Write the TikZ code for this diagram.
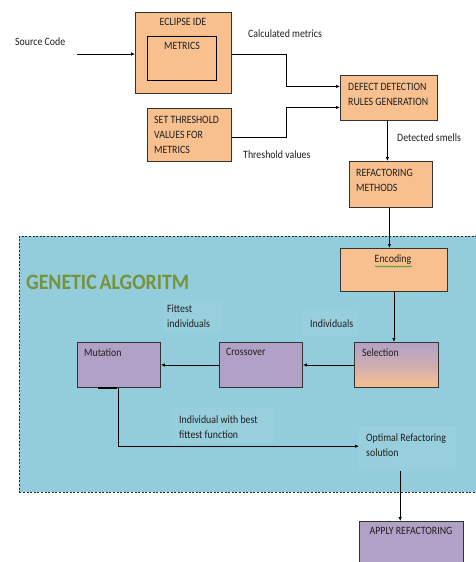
\documentclass[tikz,border=0pt]{standalone}
\usepackage{fontspec}
\setmainfont[FakeStretch=0.88]{Carlito}
\newfontfamily\titlefont[FakeStretch=0.9]{Carlito}
\usetikzlibrary{arrows.meta,decorations.pathmorphing}
\definecolor{boxorange}{HTML}{F9C08F}
\definecolor{boxpurple}{HTML}{B2A1C7}
\definecolor{gabg}{HTML}{93CDDC}
\definecolor{gapatch}{HTML}{97CFDD}
\definecolor{gagreen}{HTML}{76923C}
\definecolor{edge}{HTML}{333333}
\tikzset{
  x=1pt, y=-1pt,
  box/.style={draw=edge, line width=0.9pt, anchor=north west, inner sep=0pt},
  obox/.style={box, fill=boxorange},
  pbox/.style={box, fill=boxpurple},
  patch/.style={fill=gapatch, anchor=north west, inner sep=0pt},
  txt/.style={anchor=north west, inner sep=0pt, align=left,
    font=\fontsize{11.2}{15}\selectfont, text=black!88},
  ctxt/.style={txt, anchor=north, align=center},
  arr/.style={line width=0.7pt, -{Latex[length=4pt,width=3.5pt]}},
  wire/.style={line width=0.7pt}
}
\begin{document}
\begin{tikzpicture}
\useasboundingbox (0,0) rectangle (476,562);
\clip (0,0) rectangle (476,562);

% genetic algorithm region
\node[fill=gabg, draw=black!85, dash pattern=on 2pt off 1.6pt, line width=0.7pt,
  anchor=north west, inner sep=0pt, minimum width=470pt, minimum height=256pt] (ga) at (19,236) {};
\node[anchor=west, inner sep=0pt, text=gagreen,
  font=\titlefont\bfseries\fontsize{22}{24}\selectfont] (gatitle) at (26,282) {GENETIC\hspace{-1.5pt} ALGORITM};

% lighter patches behind the labels inside the region
\node[patch, minimum width=59pt, minimum height=33pt] (p1) at (163,300) {};
\node[patch, minimum width=56pt, minimum height=25pt] (p2) at (302,311) {};
\node[patch, minimum width=103pt, minimum height=35pt] (p3) at (172,408) {};
\node[patch, minimum width=97pt, minimum height=45pt] (optimal) at (359,426) {};

% upper pipeline
\node[obox, minimum width=96pt, minimum height=81pt] (eclipse) at (135,12) {};
\node[box, draw=black, minimum width=69pt, minimum height=44pt] (metrics) at (147,36) {};
\node[ctxt] (teclipse) at (183,18) {ECLIPSE IDE};
\node[ctxt] (tmetrics) at (182,42) {METRICS};

\node[obox, minimum width=97pt, minimum height=45pt] (defect) at (340,75) {};
\node[txt] (tdefect) at (348,83) {DEFECT DETECTION\\RULES GENERATION};

\node[obox, minimum width=84pt, minimum height=53pt] (thresh) at (147,108) {};
\node[txt] (tthresh) at (154,116) {SET THRESHOLD\\VALUES FOR\\METRICS};

\node[obox, minimum width=83pt, minimum height=46pt] (refact) at (349,161) {};
\node[txt] (trefact) at (356,169) {REFACTORING\\METHODS};

% genetic algorithm steps
\node[obox, minimum width=107pt, minimum height=43pt] (encoding) at (340,248) {};
\node[ctxt] (tencoding) at (393,254.5) {Encoding};
\draw[green!55!black, line width=0.4pt,
  decorate, decoration={snake, amplitude=0.7pt, segment length=2.5pt}]
  (375,266.5) -- (412,266.5);

\node[box, top color=boxpurple, bottom color=boxorange, middle color=boxpurple!60!boxorange,
  minimum width=84pt, minimum height=45pt] (selection) at (354,342) {};
\node[txt] (tselection) at (362,348.5) {Selection};

\node[pbox, minimum width=83pt, minimum height=45pt] (crossover) at (219,342) {};
\node[txt] (tcrossover) at (226,348.5) {Crossover};

\node[pbox, minimum width=83pt, minimum height=45pt] (mutation) at (77,342) {};
\node[txt] (tmutation) at (84,348.5) {Mutation};

\node[txt] (tfittest) at (167,304.5) {Fittest\\individuals};
\node[txt] (tindiv) at (310,319.5) {Individuals};
\node[txt] (tbest) at (179,415.5) {Individual with best\\fittest function};
\node[txt] (toptimal) at (366,433.5) {Optimal Refactoring\\solution};

\node[pbox, minimum width=104pt, minimum height=60pt] (apply) at (359,521) {};
\node[ctxt] (tapply) at (411,527.5) {APPLY REFACTORING};

% input and connector labels
\node[txt] (tsource) at (15,37.5) {Source Code};
\node[txt] (tcalc) at (248,29.5) {Calculated metrics};
\node[txt] (tthv) at (243,150.5) {Threshold values};
\node[txt] (tsmells) at (397,133.5) {Detected smells};
\coordinate (src) at (77,54);

% connectors
\draw[arr] (src) -- (src -| eclipse.west);
\draw[arr] ([yshift=-1.5]eclipse.east) -- ++(54,0) |- ([yshift=11.5]defect.west);
\draw[arr] ([yshift=-2.5]thresh.east) -- ++(54,0) |- ([yshift=-9.5]defect.west);
\draw[arr] ([xshift=-1.5]defect.south) -- ([xshift=-1.5]defect.south |- refact.north);
\draw[arr] ([xshift=-1.5]refact.south) -- ([xshift=-1.5]refact.south |- encoding.north);
\draw[arr] (encoding.south) -- (encoding.south |- selection.north);
\draw[arr] (selection.west) -- (crossover.east);
\draw[arr] (crossover.west) -- (mutation.east);
\draw[line width=1.6pt] ([xshift=21]mutation.south west) -- ([xshift=40]mutation.south west);
\draw[arr] ([xshift=41]mutation.south west) |- ([yshift=2.5]optimal.west);
\draw[arr] ([xshift=-7.5]optimal.south) -- ([xshift=-7.5]optimal.south |- apply.north);
\end{tikzpicture}
\end{document}
